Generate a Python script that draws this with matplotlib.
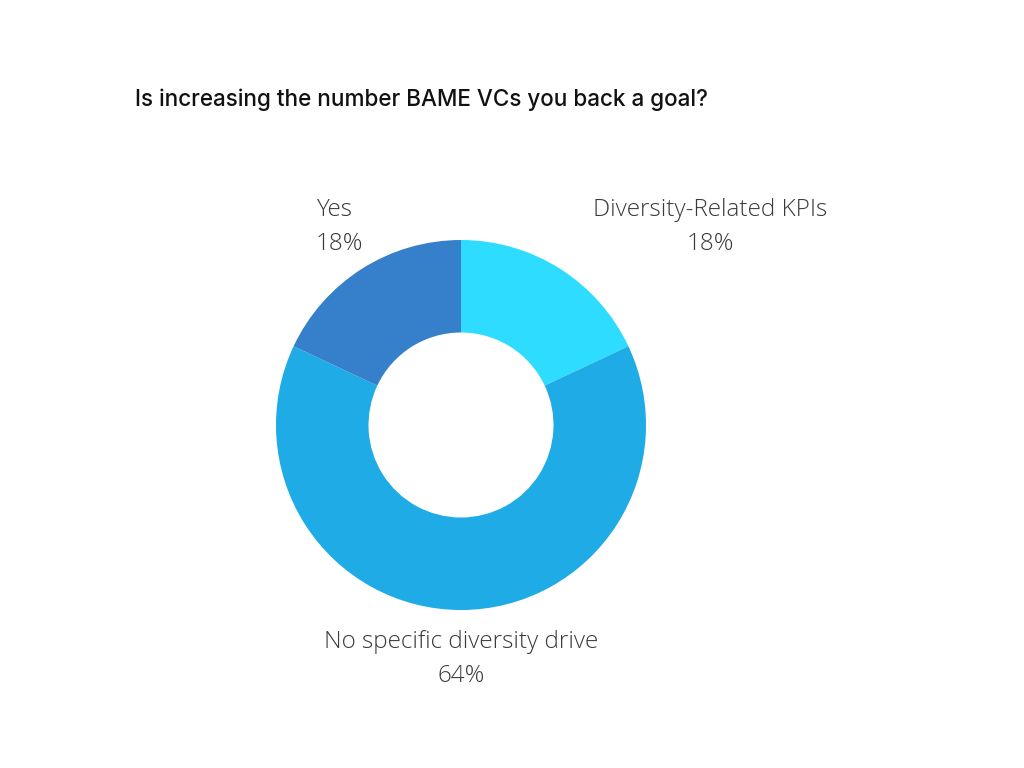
import matplotlib
matplotlib.use('Agg')
import matplotlib.pyplot as plt

# Survey answers, clockwise from the top
labels = ['Diversity-Related KPIs', 'No specific diversity drive', 'Yes']
values = [18, 64, 18]
colors = ['#2EDCFF', '#1EABE6', '#367FCB']
title = 'Is increasing the number BAME VCs you back a goal?'

W, H = 1024, 768
fig = plt.figure(figsize=(W / 100, H / 100), dpi=100)
ax = fig.add_axes([0, 0, 1, 1])
ax.set_xlim(0, W)
ax.set_ylim(0, H)
ax.set_aspect('equal')
ax.axis('off')

cx, cy, r = 461, H - 425, 185
ax.pie(values, colors=colors, startangle=90, counterclock=False,
       center=(cx, cy), radius=r, wedgeprops=dict(width=r * 0.5, linewidth=0))
ax.set_xlim(0, W)
ax.set_ylim(0, H)

fig.text(135 / W, 1 - 100 / H, title, fontsize=16.2, fontfamily='Inter',
         fontweight='medium', color='#111111', va='center', ha='left')

lab_font = dict(fontsize=17.5, fontfamily='Open Sans', fontweight='light',
                color='#3a3a3a', va='center', linespacing=1.5)
# label placement: (x, y centre of both lines, alignment)
spots = [(710, 227, 'center'), (461, 659, 'center'), (316, 227, 'left')]
for (x, y, ha), lab, v in zip(spots, labels, values):
    ax.text(x, H - y, f'{lab}\n{v}%', ha=ha, multialignment=ha, **lab_font)

fig.savefig('out.png', dpi=100, facecolor='white')
